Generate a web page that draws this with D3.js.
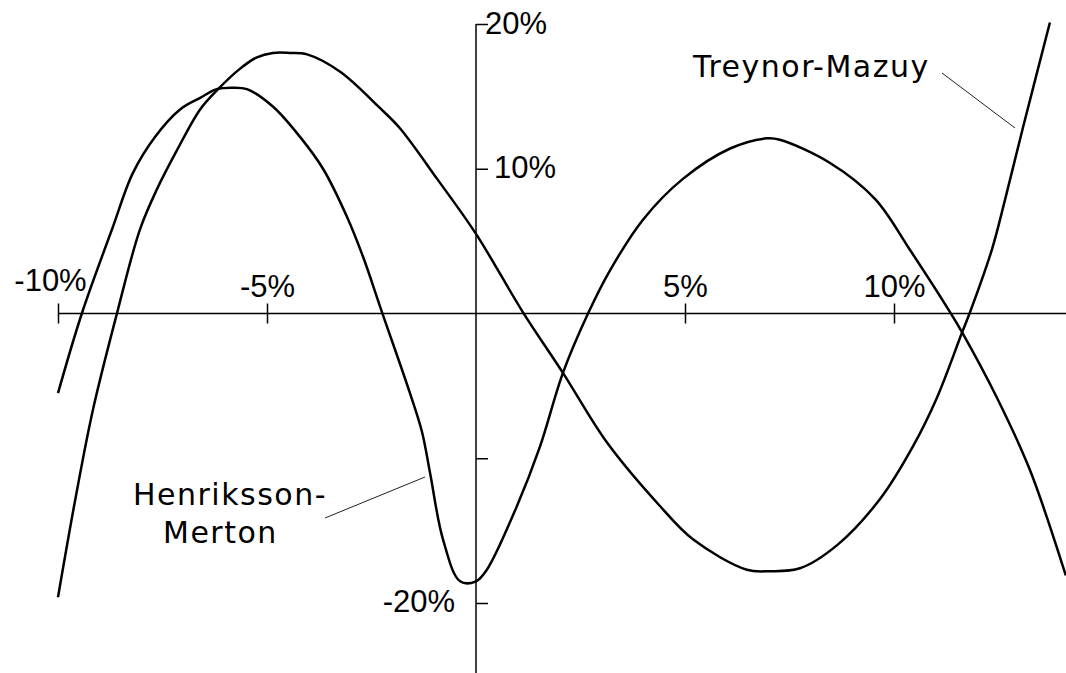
<!DOCTYPE html>
<html>
<head>
<meta charset="utf-8">
<script src="https://cdn.jsdelivr.net/npm/d3@7"></script>
<style>
body { margin: 0; background: #fff; }
</style>
</head>
<body>
<script>
var width = 1066;
var height = 673;

// Henriksson-Merton curve, market return (%) -> fund return (%)
var henX = [-10.0, -9.43, -8.71, -8.21, -7.68, -7.08, -6.6, -6.2, -5.84, -5.48, -4.86, -4.21, -3.66, -3.09, -2.7, -2.25,
    -1.58, -1.29, -1.1, -0.79, -0.38, 0, 0.26, 0.98, 1.53, 2.08, 2.68, 3.21, 4.0, 4.95, 6.08, 6.96, 7.27,
    8.47, 9.55, 10.38, 11.34, 11.63, 12.46, 13.25, 14.11];
var henY = [-5.5, 0, 5.8, 9.7, 12.2, 14.1, 14.9, 15.5, 15.6, 15.5, 14.3, 12.2, 10.0, 6.7, 3.9, 0.1,
    -5.5, -8.2, -11.0, -15.6, -18.5, -18.5, -17.7, -13.3, -9.2, -4.1, 0, 3.0, 6.5, 9.3, 11.4, 12.1, 12.0,
    10.4, 7.9, 4.4, 0.1, -1.3, -5.8, -10.8, -18.1];

// Treynor-Mazuy curve
var treX = [-10.0, -9.59, -9.16, -8.59, -8.04, -7.63, -7.15, -6.6, -6.17, -5.65, -5.24, -4.86, -4.45, -4.04, -3.25, -2.3,
    -1.82, -0.93, 0, 1.12, 2.08, 3.13, 4.4, 5.19, 6.48, 7.03, 7.75, 8.64, 9.67, 10.45, 11.03, 11.63, 11.82,
    12.34, 12.66, 13.09, 13.73];
var treY = [-19.6, -12.9, -6.6, 0, 5.8, 8.6, 11.3, 14.1, 15.5, 16.9, 17.7, 18.0, 18.0, 17.9, 16.7, 14.2,
    12.8, 9.3, 5.5, 0.1, -4.1, -8.9, -13.3, -15.6, -17.7, -17.8, -17.6, -16.0, -12.8, -9.2, -5.8, -1.3, 0.1,
    4.4, 7.9, 12.9, 20.1];

var xTicks = [-10, -5, 5, 10];
var xTickLabels = ["-10%", "-5%", "5%", "10%"];
var yTicks = [20, 15, 10, 5, -5, -10, -15, -20];
var yLabelValues = [20, 10, -20];
var yLabelText = ["20%", "10%", "-20%"];

var x = d3.scaleLinear().domain([-10, 10]).range([58, 894]);
var y = d3.scaleLinear().domain([-20, 20]).range([603, 24]);

var svg = d3.select("body").append("svg")
    .attr("width", width)
    .attr("height", height)
    .style("background", "#fff");

// x axis, ticks cross the line
var xg = svg.append("g")
    .attr("transform", "translate(0," + y(0) + ")")
    .call(d3.axisBottom(x)
        .tickValues(xTicks)
        .tickSize(10)
        .tickFormat(function(d, i) { return xTickLabels[i]; }));
xg.select(".domain").remove();
xg.append("line")
    .attr("x1", x(-10)).attr("x2", width)
    .attr("stroke", "#000").attr("stroke-width", 1.5);
xg.selectAll(".tick line")
    .attr("y1", -10).attr("y2", 10)
    .attr("stroke", "#000").attr("stroke-width", 1.5);
xg.selectAll(".tick text")
    .attr("y", function(d) { return d == -10 ? -23 : -17; })
    .attr("x", function(d) { return d == -10 ? -8 : 0; })
    .attr("dy", null)
    .attr("fill", "#000")
    .style("font-family", "'Liberation Sans', Arial, sans-serif")
    .style("font-size", "31px");

// y axis, major ticks on both sides, minor on the left only
var yg = svg.append("g")
    .attr("transform", "translate(" + x(0) + ",0)")
    .call(d3.axisLeft(y)
        .tickValues(yTicks)
        .tickSize(13)
        .tickFormat(""));
yg.select(".domain").remove();
yg.append("line")
    .attr("y1", y(20)).attr("y2", height)
    .attr("stroke", "#000").attr("stroke-width", 1.5);
yg.selectAll(".tick line")
    .attr("x2", function(d) { return d % 10 == 0 ? 12 : 0; })
    .attr("stroke", "#000").attr("stroke-width", 1.5);

yg.selectAll("text.ylab")
    .data(yLabelValues)
    .enter().append("text")
    .attr("class", "ylab")
    .attr("x", function(d) { return d == 20 ? 9 : (d > 0 ? 18 : -21); })
    .attr("y", function(d) { return y(d) + (d == 20 ? 10 : 9); })
    .attr("text-anchor", function(d) { return d > 0 ? "start" : "end"; })
    .attr("fill", "#000")
    .style("font-family", "'Liberation Sans', Arial, sans-serif")
    .style("font-size", "31px")
    .text(function(d, i) { return yLabelText[i]; });

// the two curves
var line = d3.line()
    .x(function(d) { return x(d[0]); })
    .y(function(d) { return y(d[1]); })
    .curve(d3.curveCatmullRom.alpha(0.5));

var series = [
    henX.map(function(v, i) { return [v, henY[i]]; }),
    treX.map(function(v, i) { return [v, treY[i]]; })
];

svg.selectAll("path.curve")
    .data(series)
    .enter().append("path")
    .attr("class", "curve")
    .attr("d", line)
    .attr("fill", "none")
    .attr("stroke", "#000")
    .attr("stroke-width", 2.5)
    .attr("stroke-linejoin", "round");

// labels with leader lines
var labelFont = "'DejaVu Sans', Verdana, sans-serif";

svg.append("text")
    .attr("x", 693).attr("y", 77)
    .style("font-family", labelFont).style("font-size", "30px")
    .style("letter-spacing", "1.5px")
    .text("Treynor-Mazuy");
svg.append("line")
    .attr("x1", 942).attr("y1", 73)
    .attr("x2", 1015).attr("y2", 128)
    .attr("stroke", "#222").attr("stroke-width", 1);

svg.append("text")
    .attr("x", 133).attr("y", 505)
    .style("font-family", labelFont).style("font-size", "30px")
    .style("letter-spacing", "1.5px")
    .text("Henriksson-");
svg.append("text")
    .attr("x", 163).attr("y", 543)
    .style("font-family", labelFont).style("font-size", "30px")
    .style("letter-spacing", "1.5px")
    .text("Merton");
svg.append("line")
    .attr("x1", 325).attr("y1", 518)
    .attr("x2", 425).attr("y2", 477)
    .attr("stroke", "#222").attr("stroke-width", 1);
</script>
</body>
</html>
